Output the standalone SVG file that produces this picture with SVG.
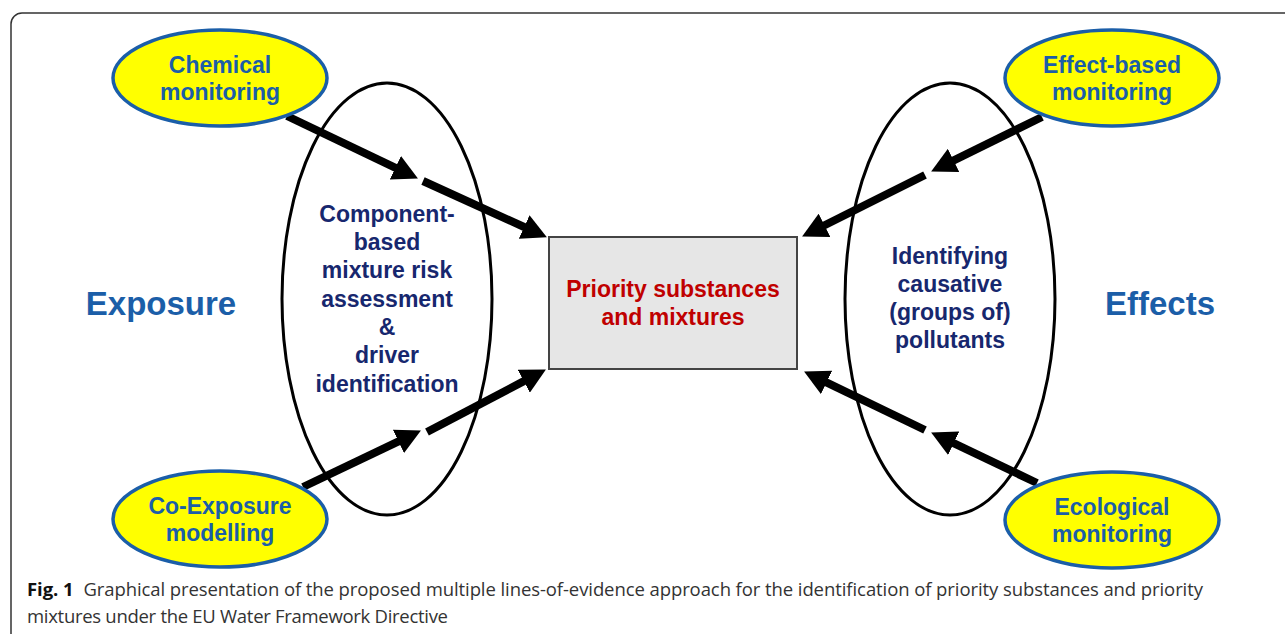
<svg xmlns="http://www.w3.org/2000/svg" width="1285" height="634" viewBox="0 0 1285 634">
<style>
  .src{fill:#ffff00;stroke:#1b5ea8;stroke-width:3.5}
  .srct{font-family:"Liberation Sans",Arial,sans-serif;font-weight:bold;font-size:23px;fill:#1b5ea8;text-anchor:middle}
  .big{fill:none;stroke:#000;stroke-width:3}
  .bigt{font-family:"Liberation Sans",Arial,sans-serif;font-weight:bold;font-size:23px;fill:#17276e;text-anchor:middle}
  .side{font-family:"Liberation Sans",Arial,sans-serif;font-weight:bold;font-size:33px;fill:#1b5ea8;text-anchor:middle}
  .ctr{font-family:"Liberation Sans",Arial,sans-serif;font-weight:bold;font-size:23px;fill:#c00000;text-anchor:middle}
  .arr{stroke:#000;stroke-width:8;fill:none;marker-end:url(#ah)}
  .cap{font-family:"Open Sans","Liberation Sans",sans-serif;font-size:18.5px;fill:#333}
</style>
<defs>
  <marker id="ah" markerUnits="userSpaceOnUse" markerWidth="26" markerHeight="26" refX="6" refY="13" orient="auto">
    <path d="M0,0 L25,13 L0,26 z" fill="#000"/>
  </marker>
</defs>
<rect x="11" y="13" width="1320" height="680" rx="11" fill="#fff" stroke="#333" stroke-width="1.5"/>

<g id="exposure-label"><text class="side" x="161" y="315">Exposure</text></g>
<g id="effects-label"><text class="side" x="1160" y="315">Effects</text></g>

<g id="component-based">
  <ellipse class="big" cx="387" cy="299" rx="105" ry="216"/>
  <text class="bigt" x="387" y="222">Component-</text>
  <text class="bigt" x="387" y="250">based</text>
  <text class="bigt" x="387" y="278">mixture risk</text>
  <text class="bigt" x="387" y="307">assessment</text>
  <text class="bigt" x="387" y="335">&amp;</text>
  <text class="bigt" x="387" y="363">driver</text>
  <text class="bigt" x="387" y="392">identification</text>
</g>

<g id="identifying">
  <ellipse class="big" cx="950" cy="299" rx="105" ry="216"/>
  <text class="bigt" x="950" y="264">Identifying</text>
  <text class="bigt" x="950" y="292">causative</text>
  <text class="bigt" x="950" y="320">(groups of)</text>
  <text class="bigt" x="950" y="348">pollutants</text>
</g>

<g id="priority">
  <rect x="549" y="237" width="248" height="132" fill="#e6e6e6" stroke="#444" stroke-width="2"/>
  <text class="ctr" x="673" y="297">Priority substances</text>
  <text class="ctr" x="673" y="325">and mixtures</text>
</g>

<g id="connectors">
  <path class="arr" d="M287,116 L400.8,170.3"/>
  <path class="arr" d="M423,181 L529.6,229.5"/>
  <path class="arr" d="M303,487 L403.8,438.8"/>
  <path class="arr" d="M427,432 L529.1,378.4"/>
  <path class="arr" d="M1042,117 L948.2,163.1"/>
  <path class="arr" d="M925,175 L819.1,228"/>
  <path class="arr" d="M1037,483 L948.3,440.7"/>
  <path class="arr" d="M925,430 L821.2,379.8"/>
</g>

<g id="chemical-monitoring">
  <ellipse class="src" cx="220" cy="78" rx="107" ry="48"/>
  <text class="srct" x="220" y="73">Chemical</text>
  <text class="srct" x="220" y="100">monitoring</text>
</g>
<g id="co-exposure-modelling">
  <ellipse class="src" cx="220" cy="519" rx="107" ry="48"/>
  <text class="srct" x="220" y="514">Co-Exposure</text>
  <text class="srct" x="220" y="541">modelling</text>
</g>
<g id="effect-based-monitoring">
  <ellipse class="src" cx="1112" cy="78" rx="107" ry="48"/>
  <text class="srct" x="1112" y="73">Effect-based</text>
  <text class="srct" x="1112" y="100">monitoring</text>
</g>
<g id="ecological-monitoring">
  <ellipse class="src" cx="1112" cy="520" rx="107" ry="48"/>
  <text class="srct" x="1112" y="515">Ecological</text>
  <text class="srct" x="1112" y="542">monitoring</text>
</g>

<g id="caption">
  <text class="cap" x="27" y="596" textLength="1176" lengthAdjust="spacing"><tspan font-weight="bold" fill="#111">Fig. 1</tspan><tspan dx="10">Graphical presentation of the proposed multiple lines-of-evidence approach for the identification of priority substances and priority</tspan></text>
  <text class="cap" x="27" y="623" textLength="421" lengthAdjust="spacing">mixtures under the EU Water Framework Directive</text>
</g>
</svg>
